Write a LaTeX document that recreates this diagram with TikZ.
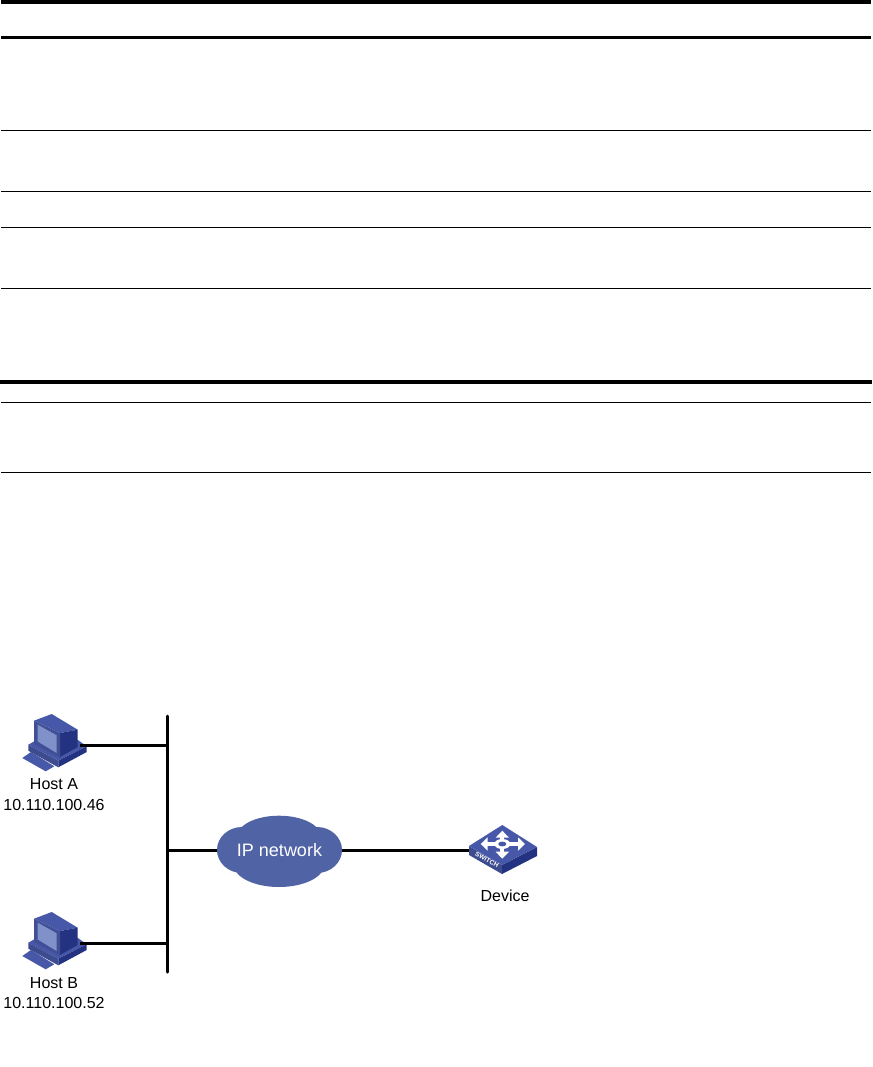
\documentclass[tikz,border=0pt]{standalone}
\usepackage{fontspec}
\setmainfont{Liberation Sans}
\usetikzlibrary{positioning, arrows.meta, shapes.geometric}
\definecolor{iconmid}{RGB}{72,88,168}
\definecolor{icondark}{RGB}{36,50,130}
\definecolor{iconlite}{RGB}{128,144,200}
\definecolor{cloudblue}{RGB}{79,99,165}
\tikzset{
  wire/.style      = {line width=3pt, black},
  thickrule/.style = {line width=3.5pt, black},
  thinrule/.style  = {line width=1pt, black},
  hostlabel/.style = {align=center, inner sep=0pt,
                      font=\fontsize{16}{20.5}\selectfont},
  netcloud/.style  = {ellipse, fill=cloudblue, inner sep=0pt,
                      minimum width=125pt, minimum height=46pt,
                      text=white, font=\fontsize{18}{20}\selectfont},
  swarr/.style     = {-{Triangle[length=7pt, width=13pt]}, line width=4pt, white},
  hostpc/.pic = {
    % keyboard
    \fill[iconmid] (-27.7,13) -- (-19,7) -- (4.3,21.3) -- (-4.3,26.3) -- cycle;
    % base
    \fill[iconmid] (-21.7,-0.3) -- (-10,-7) -- (28,-5) -- (36.7,1.3) -- (8.3,15.7) -- cycle;
    \fill[iconmid!85!black] (-21.7,-0.3) -- (8.3,15.7) -- (8.3,22.3) -- (-21.7,5.7) -- cycle;
    \fill[icondark] (8.3,15.7) -- (36.7,1.3) -- (36.7,7) -- (8.3,22.3) -- cycle;
    % monitor
    \fill[iconmid] (1.7,-31) -- (-16,-24.3) -- (10,-12) -- (27.7,-15.3) -- cycle;
    \fill[icondark] (10,-12) -- (27.7,-15.3) -- (27.7,2) -- (10,12) -- cycle;
    \fill[iconmid!90!black] (-16,-24.3) -- (10,-12) -- (10,13) -- (-16,-1) -- cycle;
    \fill[iconlite] (-12.3,-20.3) -- (6.7,-9.7) -- (6.7,8) -- (-12.3,-3.5) -- cycle;
  },
  switchbox/.pic = {
    \fill[iconmid!85!black] (-34,1) -- (-1,20) -- (-1,29) -- (-34,10) -- cycle;
    \fill[icondark] (-1,20) -- (34,2) -- (34,11) -- (-1,29) -- cycle;
    \fill[iconmid] (-0.7,-20) -- (-34,1) -- (-1,20) -- (34,2) -- cycle;
    \coordinate (swc) at (-0.7,-1);
    \draw[swarr] (swc) -- (-0.7,-14.3);
    \draw[swarr] (swc) -- (-0.7,13.7);
    \draw[swarr] (swc) -- (-22.3,-1);
    \draw[swarr] (swc) -- (22,-1);
    \fill[white] (swc) ellipse (8 and 5);
    \fill[iconmid] (swc) ellipse (4 and 2.4);
    \node[rotate=-29, inner sep=0pt, white, font=\bfseries\fontsize{6.5}{6.5}\selectfont]
      (swtext) at (-16,15) {SWITCH};
  },
}
\begin{document}
\begin{tikzpicture}[x=1pt, y=-1pt]
  \useasboundingbox (0,0) rectangle (872,1067);
  % table rules
  \draw[thickrule] (1,2) -- (871,2);
  \draw[thickrule, line width=3pt] (1,37.5) -- (871,37.5);
  \draw[thickrule, line width=4pt] (0,382) -- (872,382);
  \foreach \ypos in {130.5,191.5,227.5,288.5,402.5,472.5}
    \draw[thinrule] (1,\ypos) -- (871,\ypos);
  % hosts
  \pic at (50,745) {hostpc};
  \pic at (50,943) {hostpc};
  \node[hostlabel] (hosta) at (54,794.5) {Host A\\10.110.100.46};
  \node[hostlabel] (hostb) at (54,993) {Host B\\10.110.100.52};
  \coordinate (porta) at (80,745);
  \coordinate (portb) at (80,943);
  % bus
  \coordinate (bustop) at (167.5,716);
  \coordinate (busbot) at (167.5,972);
  \coordinate (busa) at (167.5,745);
  \coordinate (busb) at (167.5,943);
  \coordinate (busn) at (167.5,850);
  \draw[wire, line cap=round] (bustop) -- (busbot);
  \draw[wire] (porta) -- (busa);
  \draw[wire] (portb) -- (busb);
  % cloud and device
  \fill[cloudblue] (279,836.7) ellipse (42 and 21);
  \fill[cloudblue] (279,865) ellipse (45 and 22);
  \fill[cloudblue] (242,850) ellipse (25 and 23);
  \fill[cloudblue] (317,850) ellipse (25 and 23);
  \node[netcloud] (net) at (279.5,850) {IP network};
  \coordinate (portsw) at (472,850);
  \draw[wire] (busn) -- (net.west);
  \draw[wire] (net.east) -- (portsw);
  \pic at (503,845) {switchbox};
  \node[hostlabel] (device) at (505,896) {Device};
\end{tikzpicture}
\end{document}
